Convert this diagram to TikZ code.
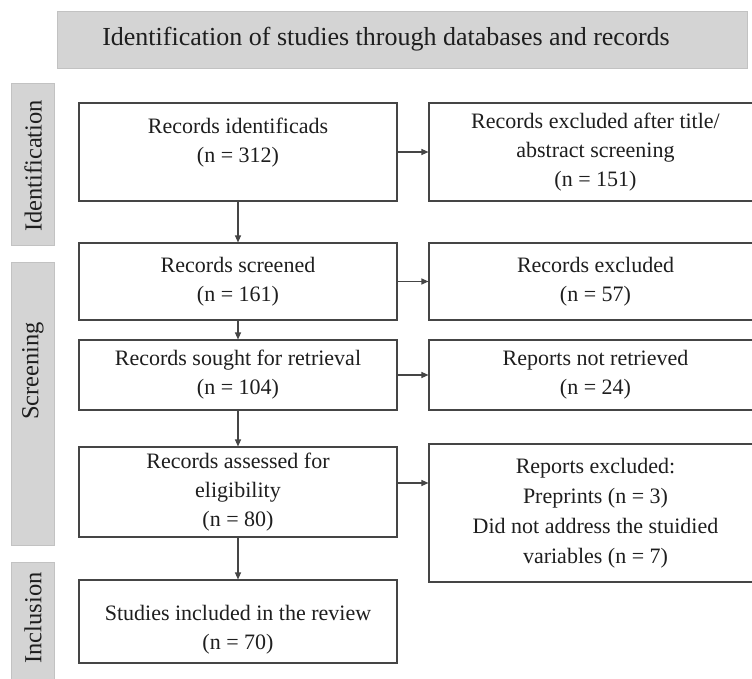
\documentclass[tikz,border=0pt]{standalone}
\usepackage{fontspec}
\setmainfont{LiberationSerif}[Extension=.ttf, UprightFont=*-Regular, BoldFont=*-Bold, ItalicFont=*-Italic, BoldItalicFont=*-BoldItalic]
\usetikzlibrary{arrows.meta,calc}
\definecolor{panel}{HTML}{D4D4D4}
\definecolor{paneledge}{HTML}{C2C2C2}
\definecolor{ink}{HTML}{1E1E1E}
\definecolor{edge}{HTML}{454545}
\begin{document}
\begin{tikzpicture}[x=1pt,y=-1pt,
  box/.style={draw=edge, line width=1.1pt, fill=white, minimum width=318pt, inner sep=0pt, align=center, font=\fontsize{22}{29}\selectfont, text=ink},
  rbox/.style={box, minimum width=333pt},
  txt/.style={inner sep=0pt, align=center, font=\fontsize{22}{29}\selectfont, text=ink},
  side/.style={fill=panel, draw=paneledge, line width=0.6pt, inner sep=0pt, minimum width=43pt},
  sidetxt/.style={rotate=90, inner sep=0pt, font=\fontsize{24.5}{28}\selectfont, text=ink},
  arr/.style={draw=edge, line width=1.1pt, -{Triangle[length=7pt,width=6pt]}}
]
\useasboundingbox (0,0) rectangle (752,679);
\fill[white] (0,0) rectangle (752,679);
\clip (0,0) rectangle (752,679);

% header
\node[fill=panel, draw=paneledge, line width=0.6pt, inner sep=0pt, minimum width=690pt, minimum height=57pt,
      font=\fontsize{26}{30}\selectfont, text=ink] (hdr) at (402,39.5)
      {Identification of studies through databases and records\hspace*{32pt}};

% side panels
\node[side, minimum height=162pt] (sid) at (32.5,164) {};
\node[sidetxt] (sidt) at (33,166) {Identification};
\node[side, minimum height=283pt] (sscr) at (32.5,403.5) {};
\node[sidetxt] (sscrt) at (33,371) {Screening};
\node[side, minimum height=128pt] (sinc) at (32.5,626) {};
\node[sidetxt] (sinct) at (33,618) {Inclusion};

% left column
\node[box, minimum height=98pt] (b1) at (238,152) {};
\node[txt] (b1t) at (238,143) {Records identificads\\(n = 312)};
\node[box, minimum height=77pt] (b2) at (238,281.5) {Records screened\\(n = 161)};
\node[box, minimum height=70pt] (b3) at (238,375) {Records sought for retrieval\\(n = 104)};
\node[box, minimum height=90pt] (b4) at (238,492) {Records assessed for\\eligibility\\(n = 80)};
\node[box, minimum height=83pt] (b5) at (238,621.5) {};
\node[txt] (b5t) at (238,630) {Studies included in the review\\(n = 70)};

% right column
\node[rbox, minimum height=98pt] (r1) at (595.5,152) {Records excluded after title/\\abstract screening\\(n = 151)};
\node[rbox, minimum height=77pt] (r2) at (595.5,281.5) {Records excluded\\(n = 57)};
\node[rbox, minimum height=70pt] (r3) at (595.5,375) {Reports not retrieved\\(n = 24)};
\node[rbox, minimum height=138pt, font=\fontsize{22}{30}\selectfont] (r4) at (595.5,513) {Reports excluded:\\Preprints (n = 3)\\Did not address the stuidied\\variables (n = 7)};

% vertical arrows
\draw[arr] (b1) -- (b2);
\draw[arr] (b2) -- (b3);
\draw[arr] (b3) -- (b4);
\draw[arr] (b4) -- (b5);

% horizontal arrows
\draw[arr] (b1) -- (r1);
\draw[arr] (b2) -- (r2);
\draw[arr] (b3) -- (r3);
\coordinate (a4) at ([yshift=9pt]b4.east);
\draw[arr] (a4) -- (a4 -| r4.west);
\end{tikzpicture}
\end{document}
